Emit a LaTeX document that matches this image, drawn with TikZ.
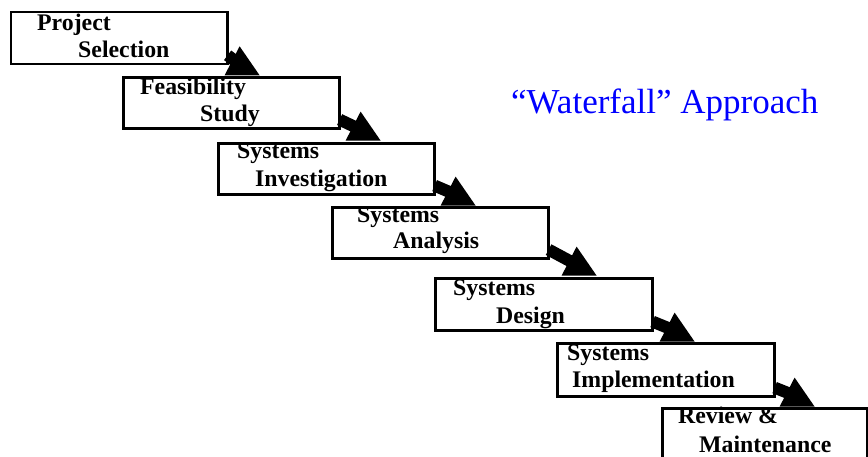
\documentclass[tikz,border=0pt]{standalone}
\usepackage{fontspec}
\setmainfont{Liberation Serif}
\usetikzlibrary{calc}
\tikzset{
  box/.style={draw, fill=white, line width=2.6pt, inner sep=0pt, anchor=north west},
  lbl/.style={inner sep=0pt, anchor=base west, font=\fontsize{23.8}{27}\selectfont\bfseries},
  ttl/.style={inner sep=0pt, anchor=base west, text=titleblue, font=\fontsize{35}{40}\selectfont},
}
\definecolor{titleblue}{RGB}{0,0,255}
\newcommand{\wfarrow}[4]{%
  \coordinate (#4) at ($(#1.south east)+(#2,#3)$);
  \fill (#4) -- ++(-35,0) -- ++(15,-29) -- cycle;
  \draw[line width=12pt] ($(#1.south east)+(-1,-10)$) -- ($(#4)+(-20,-11)$);
}
\begin{document}
\begin{tikzpicture}[x=1pt,y=-1pt]
\useasboundingbox (0,0) rectangle (868,456);
\clip (0,0) rectangle (868,456);
\path (9.5,10.7) coordinate (p1) (122,76) coordinate (p2) (217,142) coordinate (p3)
      (331,206) coordinate (p4) (434,277) coordinate (p5) (556,342) coordinate (p6)
      (661,407) coordinate (p7);
\node[box, minimum width=216.5pt, minimum height=52pt] (b1) at (p1) {};
\node[box, minimum width=216pt, minimum height=51pt] (b2) at (p2) {};
\node[box, minimum width=216pt, minimum height=51pt] (b3) at (p3) {};
\node[box, minimum width=216pt, minimum height=51pt] (b4) at (p4) {};
\node[box, minimum width=217pt, minimum height=52pt] (b5) at (p5) {};
\node[box, minimum width=217pt, minimum height=53pt] (b6) at (p6) {};
\wfarrow{b1}{31}{10}{t1}
\wfarrow{b2}{40}{11}{t2}
\wfarrow{b3}{40}{10}{t3}
\wfarrow{b4}{47}{16}{t4}
\wfarrow{b5}{41}{10}{t5}
\wfarrow{b6}{39}{9}{t6}
\node[box, minimum width=205pt, minimum height=70pt] (b7) at (p7) {};
\node[lbl] (l1a) at (37,30) {Project};
\node[lbl] (l1b) at (78,57) {Selection};
\node[lbl] (l2a) at (140,94) {Feasibility};
\node[lbl] (l2b) at (200,121) {Study};
\node[lbl] (l3a) at (237,158) {Systems};
\node[lbl] (l3b) at (255,186) {Investigation};
\node[lbl] (l4a) at (357,222) {Systems};
\node[lbl] (l4b) at (393,248) {Analysis};
\node[lbl] (l5a) at (453,295) {Systems};
\node[lbl] (l5b) at (496,323) {Design};
\node[lbl] (l6a) at (567,360) {Systems};
\node[lbl] (l6b) at (572,387) {Implementation};
\node[lbl] (l7a) at (678,423) {Review \&};
\node[lbl] (l7b) at (699,452) {Maintenance};
\node[ttl] (title) at (511,113) {“Waterfall” Approach};
\end{tikzpicture}
\end{document}
